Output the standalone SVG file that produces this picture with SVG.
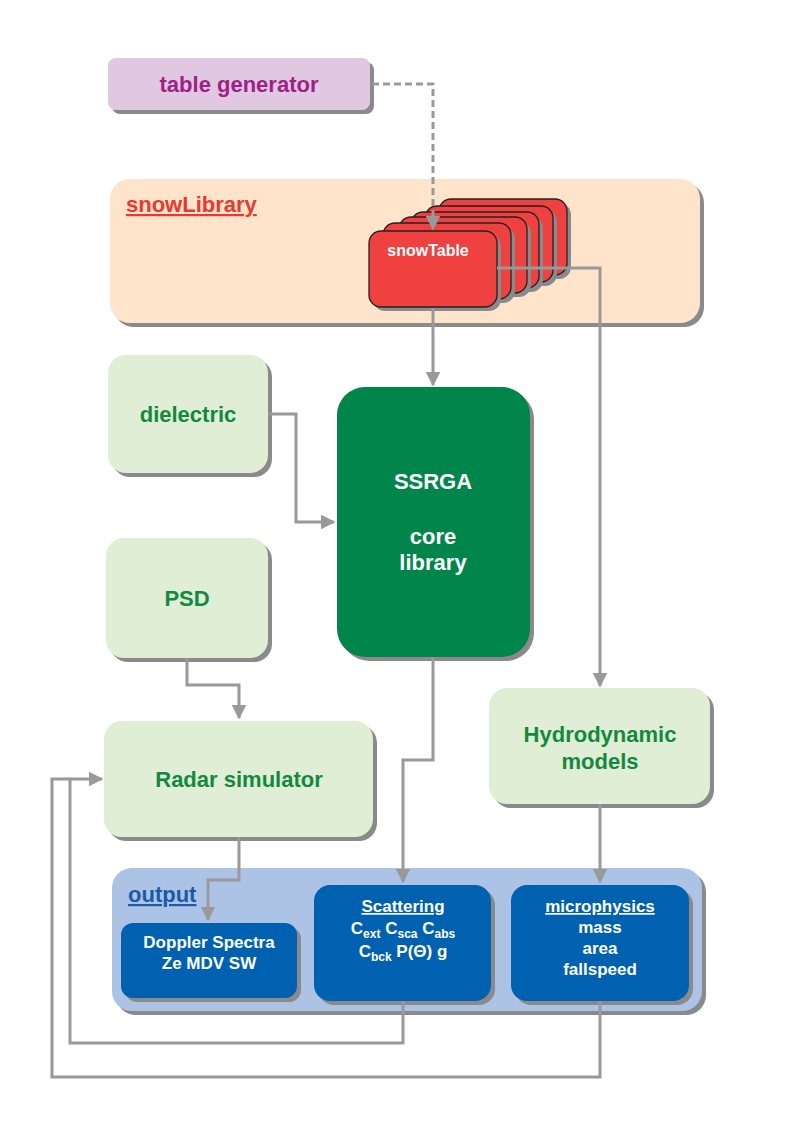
<svg xmlns="http://www.w3.org/2000/svg" width="794" height="1123" viewBox="0 0 794 1123">
<defs>
<style>
text{font-family:"Liberation Sans",Arial,sans-serif;font-weight:bold;text-anchor:middle}
.sh{fill:#8a8a8a}
.lt{fill:#e1eed6}
.gt{fill:#118a40;font-size:22px}
.bl{fill:#0061b0}
.wt{fill:#fff;font-size:17px}
.st{fill:#ef4140;stroke:#222;stroke-width:1.3}
.c{fill:none;stroke:#999;stroke-width:3}
</style>
<marker id="a" viewBox="0 0 10 10" refX="9" refY="5" markerWidth="5" markerHeight="5" orient="auto" markerUnits="strokeWidth"><path d="M0,0L10,5L0,10z" fill="#999"/></marker>
</defs>
<rect width="794" height="1123" fill="#fff"/>
<g id="tablegen">
<rect class="sh" x="112" y="62" width="262" height="52" rx="8"/>
<rect x="108" y="58" width="262" height="52" rx="8" fill="#e0c8e0"/>
<text x="239" y="92" fill="#a0208a" font-size="22">table generator</text>
</g>
<g id="snowLibrary">
<rect class="sh" x="114" y="183" width="590" height="144" rx="20"/>
<rect x="110" y="179" width="590" height="144" rx="20" fill="#fde4cb"/>
<text x="126" y="212" fill="#e8382f" font-size="22" style="text-anchor:start;text-decoration:underline">snowLibrary</text>
</g>
<g id="snowTable">
<rect class="sh" x="443" y="203" width="128" height="76" rx="12"/><rect class="st" x="439" y="199" width="128" height="76" rx="12"/>
<rect class="sh" x="429" y="210" width="128" height="76" rx="12"/><rect class="st" x="425" y="206" width="128" height="76" rx="12"/>
<rect class="sh" x="415" y="216" width="128" height="76" rx="12"/><rect class="st" x="411" y="212" width="128" height="76" rx="12"/>
<rect class="sh" x="403" y="221" width="128" height="76" rx="12"/><rect class="st" x="399" y="217" width="128" height="76" rx="12"/>
<rect class="sh" x="387" y="227" width="128" height="76" rx="12"/><rect class="st" x="383" y="223" width="128" height="76" rx="12"/>
<rect class="sh" x="373" y="235" width="128" height="76" rx="12"/><rect class="st" x="369" y="231" width="128" height="76" rx="12"/>
<text x="428" y="256" fill="#fff" font-size="16">snowTable</text>
</g>
<g id="dielectric">
<rect class="sh" x="112" y="359" width="160" height="118" rx="18"/>
<rect class="lt" x="108" y="355" width="160" height="118" rx="18"/>
<text class="gt" x="188" y="422">dielectric</text>
</g>
<g id="PSD">
<rect class="sh" x="110" y="542" width="162" height="120" rx="18"/>
<rect class="lt" x="106" y="538" width="162" height="120" rx="18"/>
<text class="gt" x="187" y="606">PSD</text>
</g>
<g id="SSRGA">
<rect class="sh" x="341" y="391" width="193" height="270" rx="28"/>
<rect x="337" y="387" width="193" height="270" rx="28" fill="#00864a"/>
<text x="433" y="489" fill="#fff" font-size="22">SSRGA</text>
<text x="433" y="544" fill="#fff" font-size="22">core</text>
<text x="433" y="570" fill="#fff" font-size="22">library</text>
</g>
<g id="radar">
<rect class="sh" x="108" y="725" width="269" height="116" rx="18"/>
<rect class="lt" x="104" y="721" width="269" height="116" rx="18"/>
<text class="gt" x="239" y="787">Radar simulator</text>
</g>
<g id="hydro">
<rect class="sh" x="493" y="692" width="221" height="116" rx="18"/>
<rect class="lt" x="489" y="688" width="221" height="116" rx="18"/>
<text class="gt" x="600" y="742">Hydrodynamic</text>
<text class="gt" x="600" y="769">models</text>
</g>
<g id="output">
<rect class="sh" x="116" y="872" width="590" height="143" rx="20"/>
<rect x="112" y="868" width="590" height="143" rx="20" fill="#acc3e6"/>
<text x="128" y="902" fill="#1a5aa8" font-size="22" style="text-anchor:start;text-decoration:underline">output</text>
</g>
<g id="doppler">
<rect class="sh" x="125" y="927" width="176" height="75" rx="12"/>
<rect class="bl" x="121" y="923" width="176" height="75" rx="12"/>
<text class="wt" x="209" y="948">Doppler Spectra</text>
<text class="wt" x="209" y="969">Ze  MDV  SW</text>
</g>
<g id="scattering">
<rect class="sh" x="318" y="889" width="177" height="116" rx="16"/>
<rect class="bl" x="314" y="885" width="177" height="116" rx="16"/>
<text class="wt" x="403" y="912" style="text-decoration:underline">Scattering</text>
<text class="wt" x="403" y="934">C<tspan font-size="12" dy="4">ext</tspan><tspan dy="-4">  C</tspan><tspan font-size="12" dy="4">sca</tspan><tspan dy="-4">  C</tspan><tspan font-size="12" dy="4">abs</tspan></text>
<text class="wt" x="403" y="957">C<tspan font-size="12" dy="4">bck</tspan><tspan dy="-4">  P(Θ)  g</tspan></text>
</g>
<g id="microphysics">
<rect class="sh" x="515" y="889" width="178" height="116" rx="16"/>
<rect class="bl" x="511" y="885" width="178" height="116" rx="16"/>
<text class="wt" x="600" y="912" style="text-decoration:underline">microphysics</text>
<text class="wt" x="600" y="933">mass</text>
<text class="wt" x="600" y="954">area</text>
<text class="wt" x="600" y="975">fallspeed</text>
</g>
<g id="connectors">
<path class="c" d="M372,84H433V229" stroke-dasharray="7,4" marker-end="url(#a)"/>
<path class="c" d="M433,308V349H433V385" marker-end="url(#a)"/>
<path class="c" d="M497,268H600V686" marker-end="url(#a)"/>
<path class="c" d="M268,414H296V522H334" marker-end="url(#a)"/>
<path class="c" d="M187,658V685H239V718" marker-end="url(#a)"/>
<path class="c" d="M239,837V880H208V920" marker-end="url(#a)"/>
<path class="c" d="M433,657V760H403V882" marker-end="url(#a)"/>
<path class="c" d="M600,804V882" marker-end="url(#a)"/>
<path class="c" d="M403,1001V1043H70V779H102" marker-end="url(#a)"/>
<path class="c" d="M600,1001V1077H52V779H70"/>
</g>
</svg>
